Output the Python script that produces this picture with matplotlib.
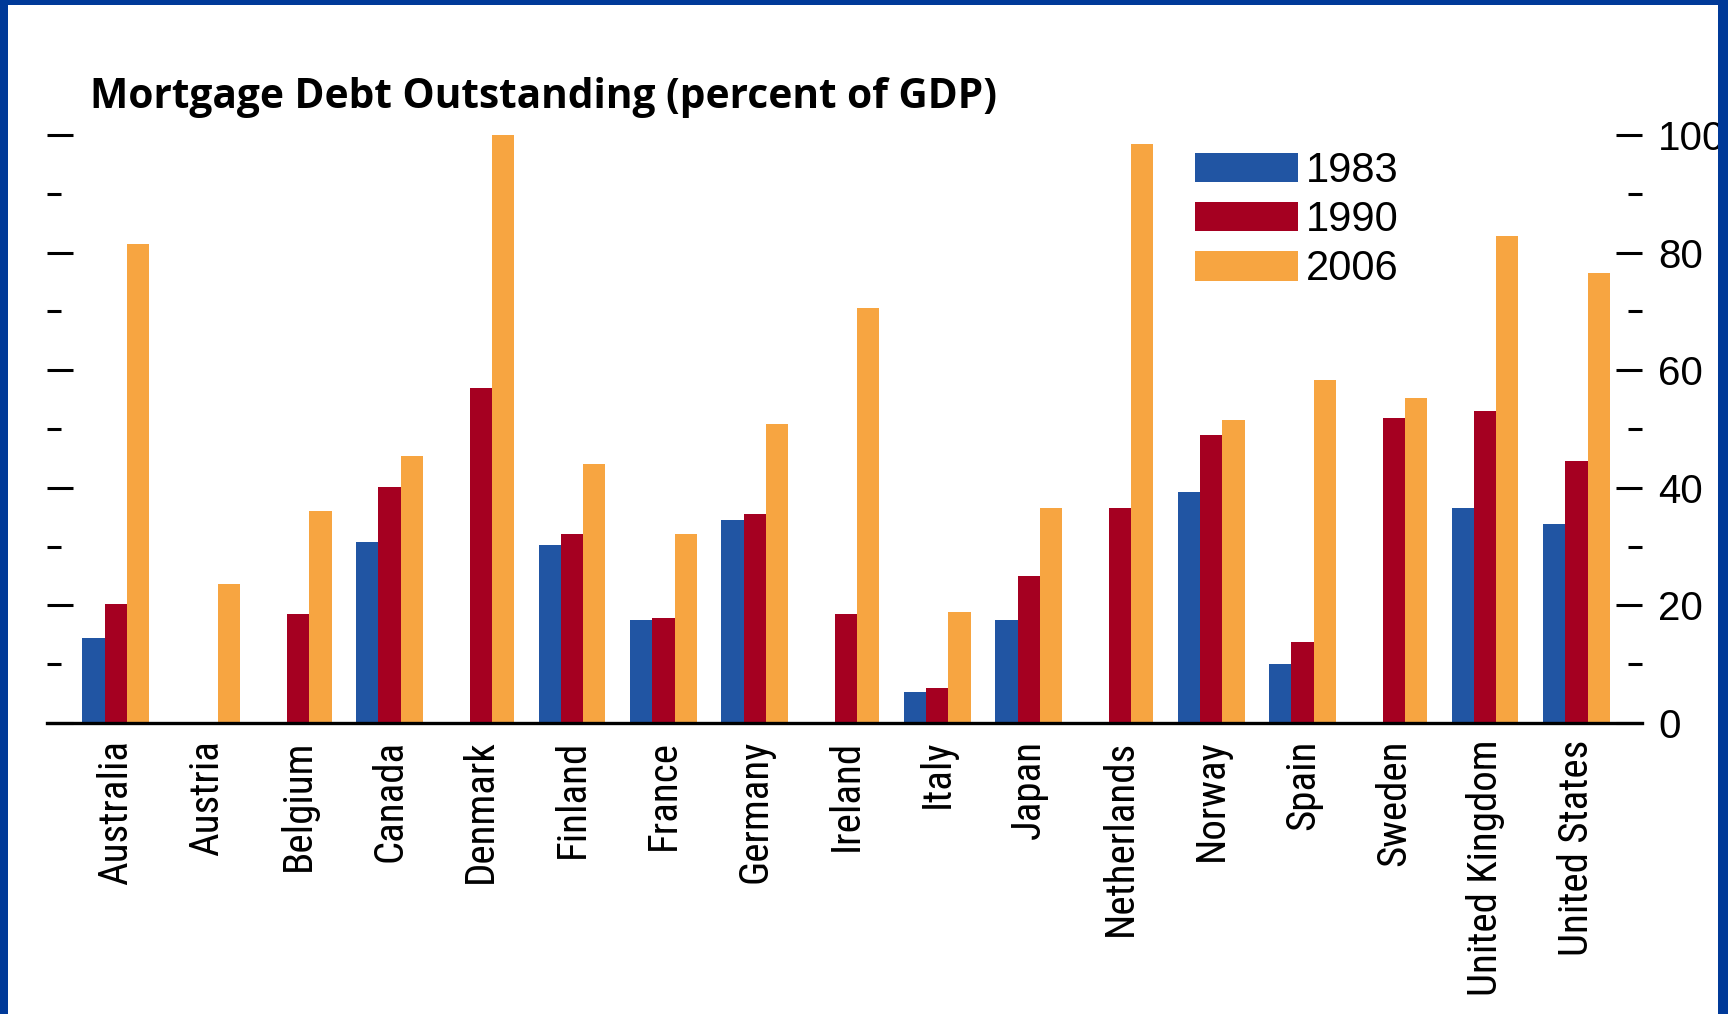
import numpy as np
import matplotlib
matplotlib.use("Agg")
import matplotlib.pyplot as plt
from matplotlib.patches import Rectangle
from matplotlib.ticker import MultipleLocator
from matplotlib import font_manager
from matplotlib.font_manager import FontProperties
from matplotlib.textpath import TextPath

# ---- data: mortgage debt outstanding, percent of GDP ----
countries = ["Australia", "Austria", "Belgium", "Canada", "Denmark", "Finland",
             "France", "Germany", "Ireland", "Italy", "Japan", "Netherlands",
             "Norway", "Spain", "Sweden", "United Kingdom", "United States"]
years = ["1983", "1990", "2006"]
nan = np.nan
debt_1983 = [14.4, nan, nan, 30.8, nan, 30.2, 17.5, 34.6, nan, 5.3, 17.5, nan,
             39.3, 10.1, nan, 36.6, 33.9]
debt_1990 = [20.3, nan, 18.6, 40.1, 57.0, 32.2, 17.9, 35.6, 18.6, 6.0, 25.0, 36.6,
             48.9, 13.8, 51.9, 53.0, 44.5]
debt_2006 = [81.5, 23.7, 36.0, 45.4, 100.0, 44.1, 32.2, 50.9, 70.6, 18.9, 36.6, 98.5,
             51.6, 58.4, 55.3, 82.9, 76.5]
y_ticks_major = [0, 20, 40, 60, 80, 100]
title = "Mortgage Debt Outstanding (percent of GDP)"

colors = ["#2155A3", "#A50021", "#F7A541"]

plt.rcParams["font.family"] = ["Liberation Sans", "DejaVu Sans"]
DPI = 100
W, H = 1728, 1014


def pick_condensed():
    """Find a regular-weight condensed/narrow sans face, if one is installed."""
    best, best_score = None, -1
    order = ["liberation sans narrow", "roboto condensed", "open sans condensed",
             "noto sans", "dejavu sans", "lato", "inter"]
    for f in font_manager.fontManager.ttflist:
        nm = f.name.lower()
        fn = f.fname.lower()
        st = str(f.stretch).lower()
        is_cond = ("condensed" in st or "narrow" in nm or "condensed" in nm
                   or "narrow" in fn or "condensed" in fn)
        if not is_cond or f.style != "normal":
            continue
        if any(s in nm or s in fn for s in ("mono", "serif", "cjk", "italic", "oblique")):
            continue
        w = f.weight
        if isinstance(w, str):
            w = {"normal": 400, "regular": 400, "book": 400}.get(w.lower(), 0)
        if w != 400:
            continue
        if "bold" in fn or "light" in fn or "medium" in fn or "thin" in fn or "black" in fn:
            continue
        score = 10
        for i, o in enumerate(order):
            if nm.startswith(o):
                score = 100 - i * 5
                break
        if "extra" in fn or "ultra" in fn:
            score -= 3
        if "semi" in fn:
            score -= 2
        if score > best_score:
            best, best_score = f, score
    return best


def size_for_width(text, prop, width_px):
    """Font size in points giving the requested rendered width."""
    tp = TextPath((0, 0), text, size=1, prop=prop)
    ext = tp.get_extents()
    return width_px / (ext.width * DPI / 72.0)


cond = pick_condensed()
label_prop = FontProperties(fname=cond.fname) if cond is not None else FontProperties(family="Liberation Sans")
label_size = size_for_width("United Kingdom", label_prop, 252)
label_prop.set_size(label_size)

title_prop = FontProperties(family=["Open Sans", "DejaVu Sans"], weight="bold")
title_size = size_for_width(title, title_prop, 903)
title_prop.set_size(title_size)

fig = plt.figure(figsize=(W / DPI, H / DPI), dpi=DPI, facecolor="white")
ax = fig.add_axes([47 / W, 1 - 723 / H, (1641.5 - 47) / W, (723 - 135) / H])
ax.set_facecolor("white")

x = np.arange(len(countries))
width = 0.243
series = [debt_1983, debt_1990, debt_2006]
for k, (vals, col, lab) in enumerate(zip(series, colors, years)):
    ax.bar(x + (k - 1) * width, vals, width, color=col, label=lab,
           edgecolor="none", zorder=2)

ax.set_xlim(-0.752, 16.712)
ax.set_ylim(0, 100)

for side in ("left", "top", "right"):
    ax.spines[side].set_visible(False)
ax.spines["bottom"].set_linewidth(2.4)
ax.spines["bottom"].set_color("black")
ax.spines["bottom"].set_zorder(3)

ax.set_yticks(y_ticks_major)
ax.yaxis.set_minor_locator(MultipleLocator(10))
ax.tick_params(axis="y", which="both", direction="in", left=True, right=True,
               labelleft=False, labelright=True, width=2.2, color="black")
ax.tick_params(axis="y", which="major", length=19, pad=12, labelsize=29)
ax.tick_params(axis="y", which="minor", length=10)

ax.set_xticks(x)
ax.set_xticklabels(countries, rotation=90, fontproperties=label_prop)
ax.tick_params(axis="x", length=0, pad=12)

leg = ax.legend(loc="upper left", bbox_to_anchor=(1195 / W, 1 - 151 / H),
                bbox_transform=fig.transFigure, frameon=False, fontsize=30,
                handlelength=2.47, handleheight=0.72, handletextpad=0.2,
                labelspacing=0.22, borderpad=0, borderaxespad=0)

fig.text(90 / W, 1 - 108.5 / H, title, fontproperties=title_prop,
         va="baseline", ha="left")

# slide frame around the chart
frame = "#003A99"
for (x0, y0, w, h) in [(0, 1 - 5 / H, 1, 5 / H), (0, 0, 8 / W, 1),
                       (1718 / W, 0, 10 / W, 1)]:
    fig.add_artist(Rectangle((x0, y0), w, h, transform=fig.transFigure,
                             facecolor=frame, edgecolor="none", zorder=10))

fig.savefig("out.png", dpi=DPI, facecolor="white")
